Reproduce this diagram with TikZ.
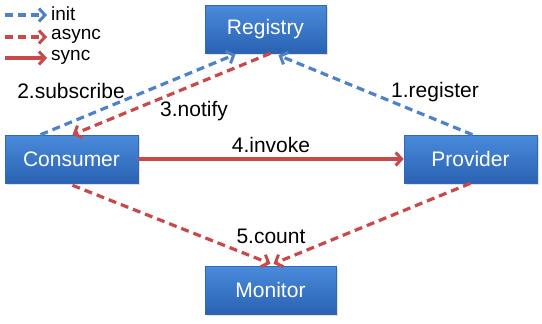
\documentclass[tikz,border=0pt]{standalone}
\usepackage{fontspec}
\setmainfont{Liberation Sans}
\usetikzlibrary{arrows.meta,shadows,calc}
\definecolor{initblue}{HTML}{4F81C7}
\definecolor{asyncred}{HTML}{C9484A}
\definecolor{boxtop}{HTML}{4A8BDB}
\definecolor{boxbot}{HTML}{2A62B3}
\definecolor{boxedge}{HTML}{3467B0}
\tikzset{
  box/.style={draw=boxedge, line width=0.6pt, top color=boxtop, bottom color=boxbot,
    text=white, minimum width=#1, minimum height=48pt, inner sep=0pt,
    font=\fontsize{21}{24}\selectfont,
    drop shadow={opacity=0.25, shadow xshift=1.5pt, shadow yshift=-2pt}},
  box/.default=133pt,
  tip/.style={-{Straight Barb[length=6pt,width=13pt,line width=3pt]}},
  initarrow/.style={tip, draw=initblue, line width=3.2pt, dash pattern=on 8pt off 5pt},
  asyncarrow/.style={tip, draw=asyncred, line width=3.2pt, dash pattern=on 8pt off 5pt},
  syncarrow/.style={tip, draw=asyncred, line width=3.2pt},
  lbl/.style={font=\fontsize{21}{24}\selectfont, text=black, inner sep=0pt},
  leg/.style={font=\fontsize{19}{20}\selectfont, text=black, inner sep=0pt, anchor=west},
}
\begin{document}
\begin{tikzpicture}[x=1pt,y=-1pt]
\useasboundingbox (0,0) rectangle (542,324);
% boxes
\node[box=121pt] (reg) at (265.5,29) {Registry};
\node[box] (con) at (71.5,159) {Consumer};
\node[box] (pro) at (470.5,159) {Provider};
\node[box=131pt] (mon) at (270.5,290) {Monitor};
% anchor points
\coordinate (regA) at ([xshift=-30pt,yshift=-1pt]reg.south);
\coordinate (regB) at ([xshift=5pt]reg.south);
\coordinate (regC) at ([xshift=13pt,yshift=-2pt]reg.south);
\coordinate (conA) at ([xshift=-31pt]con.north);
\coordinate (conB) at ([xshift=1pt]con.north);
\coordinate (conC) at ([xshift=1pt,yshift=-2pt]con.south);
\coordinate (proA) at ([xshift=2pt]pro.north);
\coordinate (proB) at (pro.south);
\coordinate (monA) at ([yshift=2pt]mon.north);
\coordinate (monB) at ([xshift=3pt,yshift=2pt]mon.north);
% connectors
\draw[initarrow] (conA) -- (regA);
\draw[asyncarrow] (regB) -- (conB);
\draw[initarrow] (proA) -- (regC);
\draw[syncarrow] (con.east) -- (pro.west);
\draw[asyncarrow] (conC) -- (monA);
\draw[asyncarrow] (proB) -- (monB);
% labels
\node[lbl] (l1) at (435,92) {1.register};
\node[lbl] (l2) at (71,91) {2.subscribe};
\node[lbl] (l3) at (194,111) {3.notify};
\node[lbl] (l4) at (271,145) {4.invoke};
\node[lbl] (l5) at (271,236) {5.count};
% legend
\coordinate (g1a) at (5,15);  \coordinate (g1b) at (47,15);
\coordinate (g2a) at (5,37);  \coordinate (g2b) at (47,37);
\coordinate (g3a) at (5,58);  \coordinate (g3b) at (47,58);
\draw[initarrow] (g1a) -- (g1b);
\draw[asyncarrow] (g2a) -- (g2b);
\draw[syncarrow] (g3a) -- (g3b);
\node[leg] (t1) at (51,14) {init};
\node[leg] (t2) at (51,36) {async};
\node[leg] (t3) at (51,57) {sync};
\end{tikzpicture}
\end{document}
